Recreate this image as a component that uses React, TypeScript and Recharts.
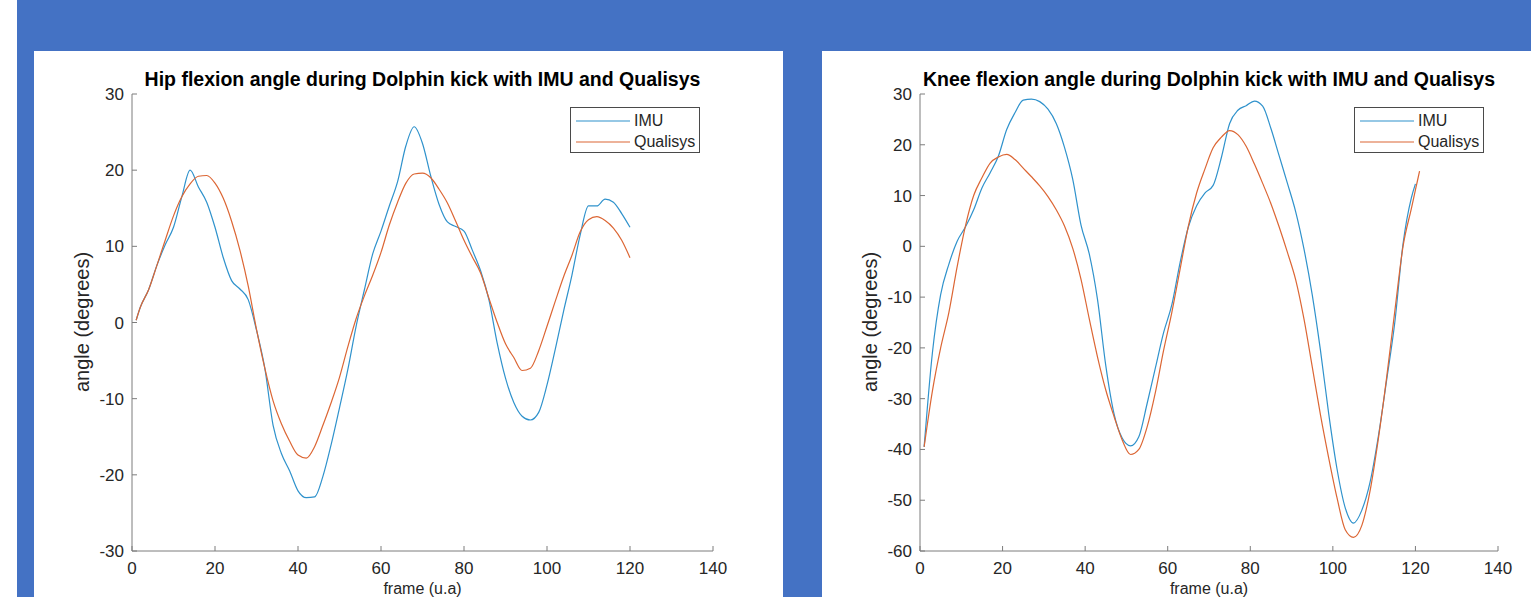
import { LineChart, Line, XAxis, YAxis, Legend } from "recharts"

// frame numbers (u.a)
const hipFrames = [
    1, 2, 4, 6, 8, 10, 12, 14, 16, 18, 20, 22, 24, 26, 28, 30, 32, 34, 36, 38, 40, 42, 44, 46, 48, 50, 52, 54, 56, 58,
    60, 62, 64, 66, 68, 70, 72, 74, 76, 78, 80, 82, 84, 86, 88, 90, 92, 94, 96, 98, 100, 102, 104, 106, 108, 110, 112,
    114, 116, 118, 120,
]
const hipImu = [
    0.3, 2.0, 4.3, 7.5, 10.2, 12.5, 16.5, 20.0, 17.8, 15.8, 12.5, 8.5, 5.5, 4.4, 3.0, -1.0, -6.0, -13.5, -17.2, -19.5,
    -22.1, -23.0, -22.9, -20.2, -16.0, -11.2, -6.2, -0.5, 4.3, 9.0, 12.0, 15.3, 18.5, 23.2, 25.7, 23.5, 19.2, 15.5,
    13.2, 12.6, 12.0, 9.5, 6.8, 3.0, -2.7, -7.3, -10.5, -12.3, -12.8, -11.8, -8.2, -3.5, 1.5, 6.2, 11.5, 15.3, 15.3,
    16.2, 15.8, 14.3, 12.5,
]
const hipQualisys = [
    0.3, 2.0, 4.3, 7.5, 10.8, 14.0, 16.5, 18.2, 19.2, 19.3, 18.3, 16.3, 13.3, 9.5, 4.8, -0.9, -6.0, -10.3, -13.3, -15.6,
    -17.4, -17.8, -16.3, -13.5, -10.5, -7.2, -3.2, 0.5, 3.5, 6.2, 9.2, 12.8, 15.8, 18.3, 19.5, 19.6, 19.0, 17.5, 15.7,
    13.3, 10.8, 8.6, 6.5, 3.2, 0.0, -2.8, -4.6, -6.3, -6.0, -3.7, -0.5, 2.8, 6.0, 8.8, 11.9, 13.5, 13.9, 13.4, 12.4,
    10.8, 8.5,
]

const kneeFrames = [
    1, 3, 5, 7, 9, 11, 13, 15, 17, 19, 21, 23, 25, 27, 29, 31, 33, 35, 37, 39, 41, 43, 45, 47, 49, 51, 53, 55, 57, 59,
    61, 63, 65, 67, 69, 71, 73, 75, 77, 79, 81, 83, 85, 87, 89, 91, 93, 95, 97, 99, 101, 103, 105, 107, 109, 111, 113,
    115, 117, 119, 120, 121,
]
const kneeImu = [
    -39.5, -21.0, -9.5, -3.5, 1.0, 3.8, 7.2, 11.5, 14.5, 17.8, 23.0, 26.3, 28.8, 29.0, 28.5, 27.0, 24.2, 19.5, 13.2,
    4.2, -1.5, -10.5, -23.5, -33.0, -37.8, -39.3, -37.5, -31.0, -24.0, -17.0, -11.5, -3.2, 3.8, 8.0, 10.5, 12.0, 17.5,
    24.2, 26.8, 27.7, 28.6, 27.6, 23.2, 17.8, 12.4, 6.8, -0.5, -9.5, -20.5, -33.0, -43.8, -51.5, -54.5, -52.0, -46.5,
    -37.5, -26.5, -15.0, 0.5, 9.5, 12.3, null,
]
const kneeQualisys = [
    -39.5, -28.5, -20.0, -13.0, -4.0, 4.0, 10.0, 13.5, 16.4, 17.6, 18.1, 17.1, 15.4, 13.7, 11.9, 9.8, 7.2, 4.0, -0.4,
    -6.5, -14.3, -21.8, -28.3, -33.5, -38.2, -41.0, -40.0, -35.6, -28.8, -20.5, -13.0, -4.5, 4.0, 10.5, 15.2, 19.4,
    21.5, 22.8, 22.0, 19.7, 16.2, 12.4, 8.4, 3.8, -1.2, -6.6, -14.3, -23.7, -33.2, -41.7, -49.5, -55.8, -57.3, -55.0,
    -48.2, -38.0, -26.0, -12.8, 0.0, 7.4, 11.1, 14.8,
]

const frameTicks = [0, 20, 40, 60, 80, 100, 120, 140]
const hipTicks = [-30, -20, -10, 0, 10, 20, 30]
const kneeTicks = [-60, -50, -40, -30, -20, -10, 0, 10, 20, 30]

const IMU_COLOR = "#2f92cc"
const QUALISYS_COLOR = "#dc6634"
const BLUE = "#4472c4"
const FONT = "'Liberation Sans', Arial, Helvetica, sans-serif"
const AXIS = "#7c7c7c"
const TEXT = "#262626"

const hipData = hipFrames.map((f, i) => ({ frame: f, imu: hipImu[i], qualisys: hipQualisys[i] }))
const kneeData = kneeFrames.map((f, i) => ({ frame: f, imu: kneeImu[i], qualisys: kneeQualisys[i] }))

const renderLegend = (props: any) => {
    const items = props.payload || []
    return (
        <div
            style={{
                width: 130,
                height: 46,
                border: "1px solid #4a4a4a",
                background: "#fff",
                fontFamily: FONT,
                fontSize: 16,
                color: TEXT,
                paddingTop: 2,
                boxSizing: "border-box",
            }}
        >
            {items.map((item: any) => (
                <div key={item.value} style={{ display: "flex", alignItems: "center", height: 21 }}>
                    <svg width={61} height={10} style={{ flex: "none" }}>
                        <line x1={5} y1={5} x2={59} y2={5} stroke={item.color} strokeWidth={1.1} />
                    </svg>
                    <span style={{ marginLeft: 2 }}>{item.value}</span>
                </div>
            ))}
        </div>
    )
}

interface PanelProps {
    title: string
    data: any[]
    domain: [number, number]
    yTicks: number[]
    left: number
    width: number
    rightMargin: number
    legendLeft: number
}

const Panel = ({ title, data, domain, yTicks, left, width, rightMargin, legendLeft }: PanelProps) => {
    const plotLeft = 98
    const plotRight = width - rightMargin
    const mid = (plotLeft + plotRight) / 2
    return (
        <div style={{ position: "absolute", left, top: 51, width, height: 546, background: "#fff" }}>
            <div
                style={{
                    position: "absolute",
                    left: mid - 340,
                    width: 680,
                    top: 16,
                    textAlign: "center",
                    fontFamily: FONT,
                    fontWeight: "bold",
                    fontSize: 19.5,
                    lineHeight: "24px",
                    color: "#000",
                    whiteSpace: "nowrap",
                }}
            >
                {title}
            </div>
            <div
                style={{
                    position: "absolute",
                    left: 48 - 90,
                    top: 271 - 12,
                    width: 180,
                    height: 24,
                    lineHeight: "24px",
                    textAlign: "center",
                    transform: "rotate(-90deg)",
                    fontFamily: FONT,
                    fontSize: 20,
                    color: TEXT,
                }}
            >
                angle (degrees)
            </div>
            <div
                style={{
                    position: "absolute",
                    left: mid - 90,
                    top: 530,
                    width: 180,
                    height: 16,
                    lineHeight: "16px",
                    textAlign: "center",
                    fontFamily: FONT,
                    fontSize: 16,
                    color: TEXT,
                }}
            >
                frame (u.a)
            </div>
            <div style={{ position: "absolute", left: 0, top: 0 }}>
                <LineChart width={width} height={546} data={data} margin={{ top: 43, right: rightMargin, bottom: 16, left: 38 }}>
                    <XAxis
                        dataKey="frame"
                        type="number"
                        domain={[0, 140]}
                        ticks={frameTicks}
                        interval={0}
                        height={30}
                        tickSize={-5}
                        tickMargin={16}
                        stroke={AXIS}
                        tick={{ fill: TEXT, fontSize: 17, fontFamily: FONT }}
                    />
                    <YAxis
                        type="number"
                        domain={domain}
                        ticks={yTicks}
                        interval={0}
                        width={60}
                        tickSize={-5}
                        tickMargin={13}
                        stroke={AXIS}
                        tick={{ fill: TEXT, fontSize: 17, fontFamily: FONT }}
                    />
                    <Legend
                        layout="vertical"
                        align="center"
                        verticalAlign="middle"
                        content={renderLegend}
                        wrapperStyle={{ left: legendLeft, top: 56, width: 130, height: 46 }}
                    />
                    <Line
                        name="IMU"
                        type="monotone"
                        dataKey="imu"
                        stroke={IMU_COLOR}
                        strokeWidth={1.2}
                        dot={false}
                        isAnimationActive={false}
                    />
                    <Line
                        name="Qualisys"
                        type="monotone"
                        dataKey="qualisys"
                        stroke={QUALISYS_COLOR}
                        strokeWidth={1.2}
                        dot={false}
                        isAnimationActive={false}
                    />
                </LineChart>
            </div>
        </div>
    )
}

export default function App() {
    return (
        <div style={{ position: "absolute", left: 0, top: 0, width: 1531, height: 597, overflow: "hidden", background: "#fff" }}>
            <div style={{ position: "absolute", left: 17, top: 0, width: 1514, height: 597, background: BLUE }} />
            <Panel
                title="Hip flexion angle during Dolphin kick with IMU and Qualisys"
                data={hipData}
                domain={[-30, 30]}
                yTicks={hipTicks}
                left={34}
                width={749}
                rightMargin={70}
                legendLeft={536}
            />
            <Panel
                title="Knee flexion angle during Dolphin kick with IMU and Qualisys"
                data={kneeData}
                domain={[-60, 30]}
                yTicks={kneeTicks}
                left={822}
                width={709}
                rightMargin={33}
                legendLeft={532}
            />
        </div>
    )
}
